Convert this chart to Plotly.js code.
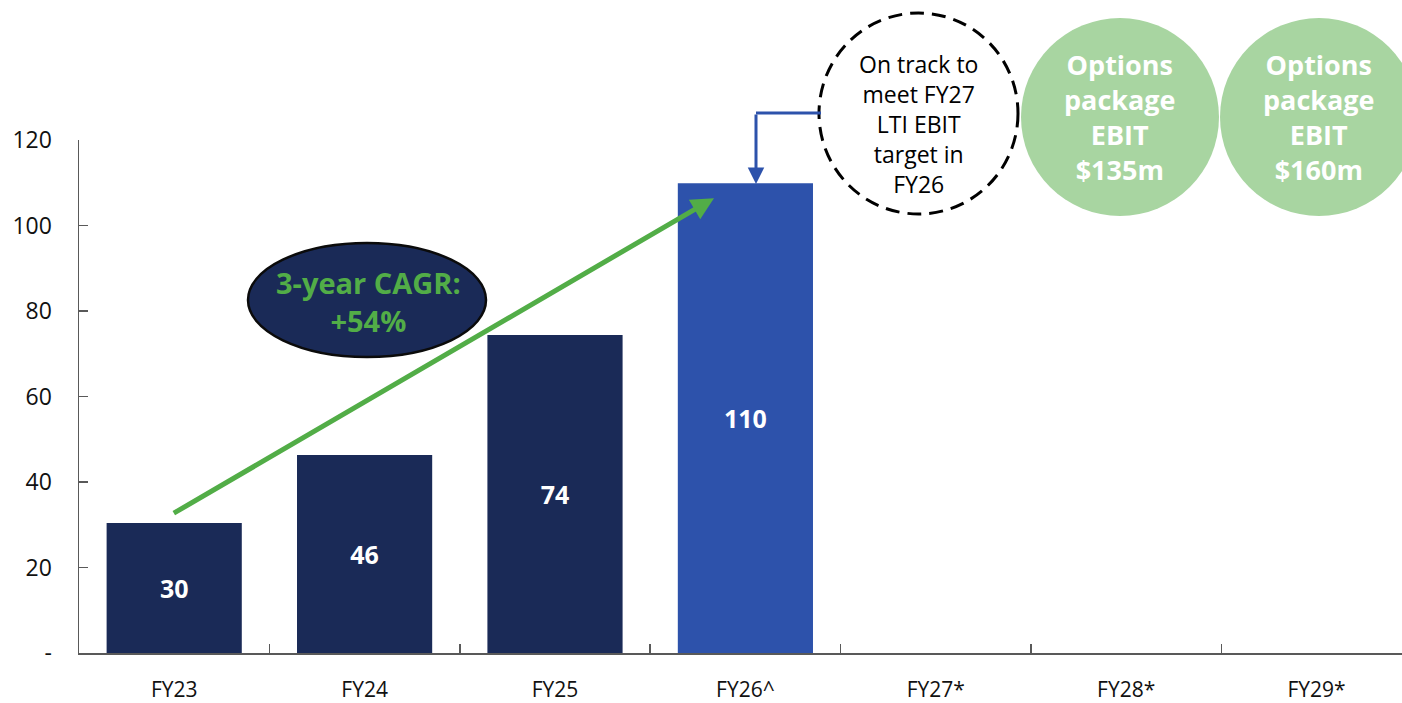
<!DOCTYPE html>
<html>
<head>
<meta charset="utf-8">
<script src="https://cdn.plot.ly/plotly-3.0.1.min.js"></script>
<style>html,body{margin:0;padding:0;background:#fff;}#chart{width:1402px;height:703px;}</style>
</head>
<body>
<div id="chart"></div>
<script>
// ---- data ----
const categories = ['FY23', 'FY24', 'FY25', 'FY26^', 'FY27*', 'FY28*', 'FY29*'];
const ebitValues = [30.4, 46.3, 74.4, 109.9, null, null, null];
const barLabels = ['30', '46', '74', '110', '', '', ''];
const yTickValues = [0, 20, 40, 60, 80, 100, 120];
const yTickLabels = ['-', '20', '40', '60', '80', '100', '120'];
const cagrText = '3-year CAGR:<br>+54%';
const onTrackText = 'On track to<br>meet FY27<br>LTI EBIT<br>target in<br>FY26';
const optionsTexts = ['Options<br>package<br>EBIT<br>$135m', 'Options<br>package<br>EBIT<br>$160m'];
// green CAGR arrow: from FY23 (value) to near FY26 (value)
const cagrArrowFrom = {x: -0.01, y: 32.5};
const cagrArrowTo = {x: 2.835, y: 106.4};

// ---- styling ----
const NAVY = '#1a2a57';
const BLUE = '#2d52ab';
const GREEN = '#52ad47';
const LIGHTGREEN = '#a8d5a1';
const AXIS = '#595959';
const FONT = 'Open Sans, Noto Sans, sans-serif';
const barColors = categories.map((c, i) => i === 3 ? BLUE : NAVY);

// pixel -> paper helpers (plot area: left 79, width 1323, top 140, height 513)
const L = 79, W = 1323, T = 140, H = 513;
const px = v => (v - L) / W;
const py = v => (T + H - v) / H;

const trace = {
  type: 'bar',
  x: categories,
  y: ebitValues,
  text: barLabels,
  textposition: 'inside',
  insidetextanchor: 'middle',
  textfont: {family: FONT, size: 25, color: '#ffffff', weight: 'bold'},
  marker: {color: barColors},
  hoverinfo: 'skip',
  cliponaxis: false
};

const shapes = [
  // CAGR ellipse
  {type: 'circle', xref: 'paper', yref: 'paper', x0: px(248), x1: px(486), y0: py(357), y1: py(243),
   fillcolor: NAVY, line: {color: '#0b0b0b', width: 2.5}, layer: 'above'},
  // dashed circle
  {type: 'circle', xref: 'paper', yref: 'paper', x0: px(819), x1: px(1018), y0: py(214), y1: py(13),
   fillcolor: 'rgba(255,255,255,0)', line: {color: '#000000', width: 3, dash: '14px,8px'}, layer: 'above'},
  // green circles
  {type: 'circle', xref: 'paper', yref: 'paper', x0: px(1021), x1: px(1219), y0: py(216), y1: py(18),
   fillcolor: LIGHTGREEN, line: {width: 0}, layer: 'above'},
  {type: 'circle', xref: 'paper', yref: 'paper', x0: px(1220), x1: px(1418), y0: py(216), y1: py(18),
   fillcolor: LIGHTGREEN, line: {width: 0}, layer: 'above'},
  // blue elbow connector horizontal part
  {type: 'line', xref: 'paper', yref: 'paper', x0: px(756), x1: px(821), y0: py(113), y1: py(113),
   line: {color: BLUE, width: 3}, layer: 'above'}
];

const centered = {xref: 'paper', yref: 'paper', showarrow: false, xanchor: 'center', yanchor: 'middle', align: 'center'};

const annotations = [
  // green CAGR arrow
  {x: cagrArrowTo.x, y: cagrArrowTo.y, ax: cagrArrowFrom.x, ay: cagrArrowFrom.y, axref: 'x', ayref: 'y',
   xref: 'x', yref: 'y', text: '', showarrow: true, arrowhead: 2, arrowsize: 0.9, arrowwidth: 5, arrowcolor: GREEN},
  // CAGR text
  Object.assign({}, centered, {x: px(368), y: py(301), text: cagrText,
   font: {family: FONT, size: 29, color: GREEN, weight: 'bold'}}),
  // blue connector arrow down to FY26 bar
  {xref: 'paper', yref: 'paper', x: px(756), y: py(184), ax: 0, ay: -71, text: '', showarrow: true,
   arrowhead: 2, arrowsize: 1.1, arrowwidth: 3, arrowcolor: BLUE},
  // on-track text
  Object.assign({}, centered, {x: px(918), y: py(124), text: onTrackText,
   font: {family: FONT, size: 23, color: '#000000'}}),
  // options package texts
  Object.assign({}, centered, {x: px(1120), y: py(117), text: optionsTexts[0],
   font: {family: FONT, size: 27, color: '#ffffff', weight: 'bold'}}),
  Object.assign({}, centered, {x: px(1319), y: py(117), text: optionsTexts[1],
   font: {family: FONT, size: 27, color: '#ffffff', weight: 'bold'}})
];

const layout = {
  width: 1402, height: 703,
  margin: {l: L, r: 1402 - L - W, t: T, b: 703 - T - H, pad: 0},
  paper_bgcolor: '#ffffff', plot_bgcolor: '#ffffff',
  showlegend: false,
  bargap: 0.29,
  font: {family: FONT, color: '#111111'},
  xaxis: {
    type: 'category', range: [-0.5, -0.5 + W / 190.4], fixedrange: true,
    showline: true, linecolor: AXIS, linewidth: 1.5,
    ticks: 'inside', tickson: 'boundaries', ticklen: 9, tickcolor: AXIS, tickwidth: 1.5,
    showgrid: false, zeroline: false,
    tickfont: {family: FONT, size: 21, color: '#111111'}, ticklabelstandoff: 17
  },
  yaxis: {
    range: [0, 120], tickvals: yTickValues, ticktext: yTickLabels, fixedrange: true,
    showline: true, linecolor: AXIS, linewidth: 1.5,
    ticks: 'inside', ticklen: 9, tickcolor: AXIS, tickwidth: 1.5,
    showgrid: false, zeroline: false,
    tickfont: {family: FONT, size: 23, color: '#111111'}, ticklabelstandoff: 21
  },
  shapes: shapes,
  annotations: annotations
};

Plotly.newPlot('chart', [trace], layout, {displayModeBar: false, staticPlot: true});
</script>
</body>
</html>
